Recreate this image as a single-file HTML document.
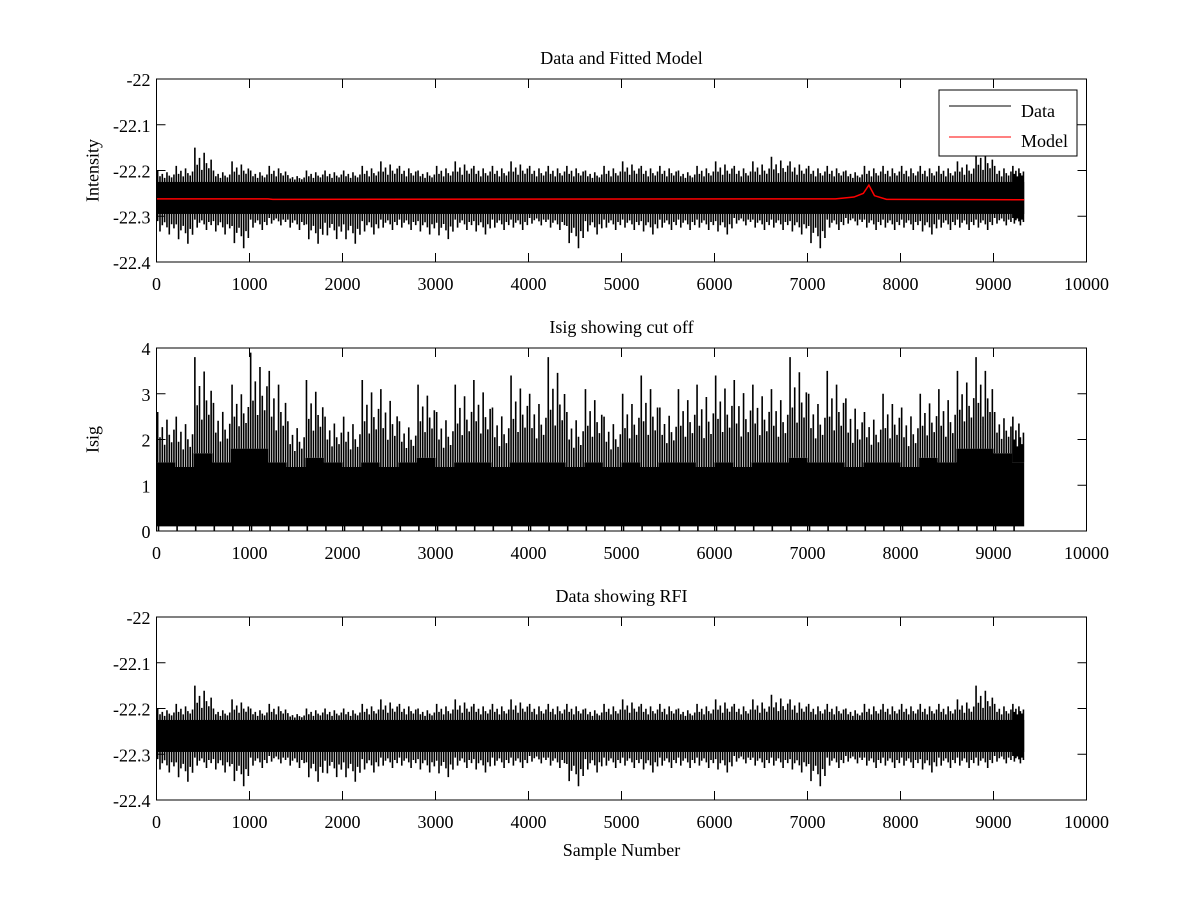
<!DOCTYPE html>
<html><head><meta charset="utf-8"><style>
body{margin:0;background:#fff}
svg{display:block;font-family:"Liberation Serif",serif}
text{font-size:18px;fill:#000}
</style></head><body>
<svg id="fig" width="1200" height="900"></svg>
<script>
const xTicks=[0,1000,2000,3000,4000,5000,6000,7000,8000,9000,10000];
const intTicks=[-22,-22.1,-22.2,-22.3,-22.4];
const isigTicks=[0,1,2,3,4];
const binSize=200;
const dataHi=[-22.20,-22.19,-22.15,-22.20,-22.18,-22.20,-22.19,-22.21,-22.20,-22.20,-22.20,-22.19,-22.18,-22.19,-22.20,-22.19,-22.18,-22.19,-22.19,-22.18,-22.19,-22.19,-22.19,-22.20,-22.19,-22.18,-22.19,-22.19,-22.20,-22.19,-22.18,-22.19,-22.18,-22.17,-22.18,-22.19,-22.19,-22.20,-22.19,-22.19,-22.19,-22.19,-22.19,-22.18,-22.15,-22.19,-22.19];
const dataLo=[-22.34,-22.36,-22.33,-22.34,-22.37,-22.33,-22.32,-22.33,-22.36,-22.35,-22.36,-22.34,-22.33,-22.33,-22.34,-22.35,-22.33,-22.34,-22.33,-22.33,-22.32,-22.33,-22.37,-22.34,-22.33,-22.33,-22.34,-22.33,-22.33,-22.33,-22.34,-22.32,-22.33,-22.33,-22.34,-22.37,-22.33,-22.32,-22.33,-22.33,-22.33,-22.34,-22.33,-22.33,-22.33,-22.32,-22.32];
const coreHi=-22.225, coreLo=-22.295;
const modelX=[0,1200,1250,7300,7500,7600,7660,7720,7850,9330];
const modelY=[-22.262,-22.262,-22.263,-22.262,-22.258,-22.25,-22.232,-22.255,-22.263,-22.264];
const isigHi=[2.6,2.5,3.8,2.8,3.2,3.9,3.5,2.4,3.3,2.5,2.5,3.3,3.1,2.4,3.2,2.6,3.2,3.3,2.7,3.4,3.0,3.8,2.6,3.1,2.5,3.0,3.4,2.7,3.1,3.2,3.4,3.3,3.2,3.1,3.8,3.0,3.5,2.9,2.6,3.0,2.7,3.0,3.1,3.5,3.8,2.6,2.5];
const isigCore=[1.5,1.4,1.7,1.5,1.8,1.8,1.5,1.4,1.6,1.5,1.4,1.5,1.4,1.5,1.6,1.4,1.5,1.5,1.4,1.5,1.5,1.5,1.4,1.5,1.4,1.5,1.4,1.5,1.5,1.4,1.5,1.4,1.5,1.5,1.6,1.5,1.5,1.4,1.5,1.5,1.4,1.6,1.5,1.8,1.8,1.7,1.5];
const nData=9330;
const tex=[1,0.5,0.7,0.35,0.85,0.55,0.4,0.65];

const NS="http://www.w3.org/2000/svg";
const svg=document.getElementById('fig');
function el(t,a,p){const e=document.createElementNS(NS,t);for(const k in a)e.setAttribute(k,a[k]);(p||svg).appendChild(e);return e;}
const L=156.5,R=1086.5;
const sx=v=>L+(v/10000)*(R-L);
function axes(top,bot,yMin,yMax,yt,title,ylab,name){
  const g=el('g',{});
  
  
  const sy=v=>bot-(v-yMin)/(yMax-yMin)*(bot-top);
  return {g,sy,finish(){
    const fr=el('rect',{x:L,y:top,width:R-L,height:bot-top,fill:'none',stroke:'#000','stroke-width':1},g);
    
    xTicks.forEach(v=>{const x=sx(v);
      el('line',{x1:x,x2:x,y1:bot,y2:bot-9,stroke:'#000'},g);el('line',{x1:x,x2:x,y1:top,y2:top+9,stroke:'#000'},g);
      const t=el('text',{x:x,y:bot+28,'text-anchor':'middle'},g);t.textContent=v;
      });
    yt.forEach(v=>{const y=sy(v);
      el('line',{x1:L,x2:L+9,y1:y,y2:y,stroke:'#000'},g);el('line',{x1:R,x2:R-9,y1:y,y2:y,stroke:'#000'},g);
      const t=el('text',{x:L-6,y:y+7,'text-anchor':'end'},g);t.textContent=v;
      });
    const tt=el('text',{x:(L+R)/2,y:top-15,'text-anchor':'middle'},g);tt.textContent=title;
    
    const yl=el('text',{x:0,y:0,'text-anchor':'middle',transform:`translate(${L-58},${(top+bot)/2}) rotate(-90)`},g);yl.textContent=ylab;
    
  }};
}
function drawIntensity(a){
  let d='';
  dataHi.forEach((h,i)=>{const x0=sx(i*binSize),x1=sx(Math.min((i+1)*binSize,nData));const n=tex.length;
    for(let k=0;k<n;k++){const x=x0+(x1-x0)*(k+0.5)/n;
      const up=coreHi+(h-coreHi)*tex[k];const dn=coreLo+(dataLo[i]-coreLo)*tex[(k+3)%n];
      d+=`M${x},${a.sy(up)}L${x},${a.sy(dn)}`;}});
  const p=el('path',{d,stroke:'#000','stroke-width':1.6,fill:'none'},a.g);
  
  const c=el('rect',{x:sx(0),y:a.sy(coreHi),width:sx(nData)-sx(0),height:a.sy(coreLo)-a.sy(coreHi),fill:'#000'},a.g);
  
}
const p1=axes(79,262,-22.4,-22,intTicks,'Data and Fitted Model','Intensity','plot-data-model');
drawIntensity(p1);
const m=el('polyline',{points:modelX.map((x,i)=>sx(x)+','+p1.sy(modelY[i])).join(' '),stroke:'#f00','stroke-width':1.5,fill:'none'},p1.g);

p1.finish();
const lg=el('g',{},p1.g);
el('rect',{x:939,y:90,width:138,height:66,fill:'#fff',stroke:'#000'},lg);
el('line',{x1:949,x2:1011,y1:106,y2:106,stroke:'#000'},lg);
el('line',{x1:949,x2:1011,y1:137,y2:137,stroke:'#f00'},lg);
const l1=el('text',{x:1021,y:117},lg);l1.textContent='Data';
const l2=el('text',{x:1021,y:147},lg);l2.textContent='Model';

const p2=axes(348,531,0,4,isigTicks,'Isig showing cut off','Isig','plot-isig');
let pts=[sx(0)+','+p2.sy(0.1)];
isigCore.forEach((c,i)=>{pts.push(sx(i*binSize)+','+p2.sy(c));pts.push(sx(Math.min((i+1)*binSize,nData))+','+p2.sy(c));});
pts.push(sx(nData)+','+p2.sy(0.1));
const pc=el('polygon',{points:pts.join(' '),fill:'#000'},p2.g);

let d2='';
isigHi.forEach((h,i)=>{const x0=sx(i*binSize),x1=sx(Math.min((i+1)*binSize,nData));const n=tex.length;
  for(let k=0;k<n;k++){const x=x0+(x1-x0)*(k+0.5)/n;const c=isigCore[i];
    d2+=`M${x},${p2.sy(c)}L${x},${p2.sy(c+(h-c)*tex[k])}`;}
  d2+=`M${x0+2},${p2.sy(0)}L${x0+2},${p2.sy(0.3)}`;});
const ps=el('path',{d:d2,stroke:'#000','stroke-width':1.6,fill:'none'},p2.g);

p2.finish();

const p3=axes(617,800,-22.4,-22,intTicks,'Data showing RFI','','plot-rfi');
drawIntensity(p3);
p3.finish();
const xl=el('text',{x:(L+R)/2,y:856,'text-anchor':'middle'});xl.textContent='Sample Number';

</script>
</body></html>
